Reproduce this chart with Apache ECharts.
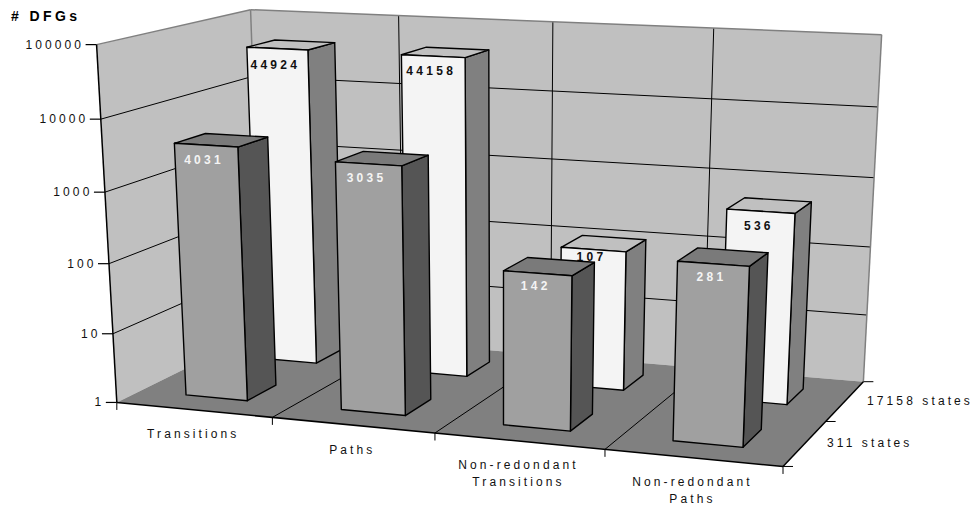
<!DOCTYPE html>
<html>
<head>
<meta charset="utf-8">
<style>
html, body { margin: 0; padding: 0; background: #fff; }
#chart { width: 977px; height: 512px; }
/* the original text is widely tracked, canvas can't do this so we use the svg renderer */
#chart svg text { letter-spacing: 3.1px; }
#chart svg text[style*="bold"] { letter-spacing: 3.3px; }
#chart svg text[style*="14px"] { letter-spacing: 3.4px; }
</style>
<script src="https://cdn.jsdelivr.net/npm/echarts@6/dist/echarts.min.js"></script>
</head>
<body>
<div id="chart"></div>
<script>
const categories = ['Transitions', 'Paths', 'Non-redondant\nTransitions', 'Non-redondant\nPaths']
const depthLabels = ['311 states', '17158 states']
const states311 = [4031, 3035, 142, 281]
const states17158 = [44924, 44158, 107, 536]
const yTicks = [1, 10, 100, 1000, 10000, 100000]
const yTitle = '# DFGs'

// px below the top edge of the bar face where the value sits
const labelDrop311 = [15, 14, 13, 13]
const labelDrop17158 = [16, 15, 7, 15]

// calibration of the fake 3d box: [category, depth, log10 value, px x, px y]
const cameraPoints = [
    [0, 0, 0, 117, 403], [1, 0, 0, 271.7, 417], [2, 0, 0, 434.7, 433], [3, 0, 0, 604.7, 449], [4, 0, 0, 783, 467],
    [4, 1, 0, 826.7, 421], [4, 2, 0, 863, 382], [0, 2, 0, 262, 331],
    [0, 0, 1, 113.3, 334], [0, 0, 2, 109.2, 263], [0, 0, 3, 105.2, 192], [0, 0, 4, 100, 119.3], [0, 0, 5, 97, 45],
    [0, 2, 5, 250, 9.5], [1, 2, 5, 398, 15.5], [2, 2, 5, 555, 22], [3, 2, 5, 713, 28], [4, 2, 5, 882, 34.7],
    [4, 2, 4, 877.3, 106.7], [4, 2, 3, 873.7, 178]
]

const BAR_MARGIN = 0.3 // gap on each side of a bar, in category / row units

function solve(A, b) {
    const n = b.length
    for (let i = 0; i < n; i++) {
        let p = i
        for (let r = i + 1; r < n; r++) if (Math.abs(A[r][i]) > Math.abs(A[p][i])) p = r
        ;[A[i], A[p]] = [A[p], A[i]]
        ;[b[i], b[p]] = [b[p], b[i]]
        for (let r = i + 1; r < n; r++) {
            const f = A[r][i] / A[i][i]
            for (let c = i; c < n; c++) A[r][c] -= f * A[i][c]
            b[r] -= f * b[i]
        }
    }
    const x = new Array(n).fill(0)
    for (let i = n - 1; i >= 0; i--) {
        let s = b[i]
        for (let c = i + 1; c < n; c++) s -= A[i][c] * x[c]
        x[i] = s / A[i][i]
    }
    return x
}

// least squares fit of the projective matrix
function fitCamera() {
    const N = Array.from({ length: 11 }, () => new Array(11).fill(0))
    const r = new Array(11).fill(0)
    const add = (row, t) => {
        for (let i = 0; i < 11; i++) {
            r[i] += row[i] * t
            for (let j = 0; j < 11; j++) N[i][j] += row[i] * row[j]
        }
    }
    cameraPoints.forEach(([u, v, w, x, y]) => {
        u /= 4; v /= 2; w /= 5
        add([u, v, w, 1, 0, 0, 0, 0, -x * u, -x * v, -x * w], x)
        add([0, 0, 0, 0, u, v, w, 1, -y * u, -y * v, -y * w], y)
    })
    return solve(N, r)
}
const cam = fitCamera()

function project(u, v, w) {
    u /= 4; v /= 2; w /= 5
    const d = cam[8] * u + cam[9] * v + cam[10] * w + 1
    return [
        (cam[0] * u + cam[1] * v + cam[2] * w + cam[3]) / d,
        (cam[4] * u + cam[5] * v + cam[6] * w + cam[7]) / d
    ]
}

// axis scales give the position on the flat grid, which is then put on the 3d box
function toBox(api, params, x, value, depth) {
    const cs = params.coordSys
    const c = api.coord([x, value])
    return project((c[0] - cs.x) / cs.width * 4, depth, (cs.y + cs.height - c[1]) / cs.height * 5)
}

function poly(points, fill, stroke, lineWidth) {
    return {
        type: 'polygon',
        shape: { points: points },
        style: { fill: fill, stroke: stroke || 'none', lineWidth: lineWidth || 0, lineJoin: 'round' }
    }
}

function line(a, b, stroke, lineWidth) {
    return {
        type: 'line',
        shape: { x1: a[0], y1: a[1], x2: b[0], y2: b[1] },
        style: { stroke: stroke, lineWidth: lineWidth, fill: 'none' }
    }
}

function text(str, x, y, font, fill, align) {
    return {
        type: 'text',
        style: { text: str, x: x, y: y, font: font, fill: fill, align: align, verticalAlign: 'middle', lineHeight: 16.5 }
    }
}

const AXIS_FONT = '12px "Liberation Sans", Arial, sans-serif'
const BOLD_FONT = 'bold 12px "Liberation Sans", Arial, sans-serif'
const TITLE_FONT = 'bold 14px "Liberation Sans", Arial, sans-serif'

function renderFrame(params, api) {
    const P = (x, value, depth) => toBox(api, params, x, value, depth)
    const n = categories.length
    const yMin = yTicks[0]
    const yMax = yTicks[yTicks.length - 1]
    const rows = depthLabels.length
    const kids = []

    const A = P(0, yMin, 0), B = P(n, yMin, 0), C = P(n, yMin, rows), D = P(0, yMin, rows)
    const E = P(0, yMax, 0), F = P(0, yMax, rows), G = P(n, yMax, rows)

    kids.push(poly([A, E, F, D], '#c0c0c0'))
    kids.push(poly([D, F, G, C], '#c0c0c0'))

    // grid on the two walls
    yTicks.slice(1, -1).forEach(t => {
        const back = P(0, t, rows)
        kids.push(line(P(0, t, 0), back, '#000', 1))
        kids.push(line(back, P(n, t, rows), '#000', 1))
    })
    for (let i = 1; i < n; i++) {
        kids.push(line(P(i, yMin, rows), P(i, yMax, rows), '#000', 1))
    }

    kids.push(line(E, F, '#808080', 1.5))
    kids.push(line(F, G, '#808080', 1.5))
    kids.push(line(G, C, '#808080', 1.5))
    kids.push(line(F, D, '#808080', 1.5))

    kids.push(poly([A, B, C, D], '#808080'))
    for (let i = 1; i < n; i++) {
        kids.push(line(P(i, yMin, 0), P(i, yMin, rows), '#000', 1))
    }
    kids.push(line(A, E, '#000', 1.5))
    kids.push(line(A, B, '#000', 1.5))
    kids.push(line(B, C, '#000', 1.5))

    // value axis
    yTicks.forEach(t => {
        const p = P(0, t, 0)
        kids.push(line([p[0] - 11, p[1]], p, '#000', 1.2))
        kids.push(text(String(t), p[0] - 12.5, p[1], AXIS_FONT, '#111', 'right'))
    })
    // category axis
    for (let i = 0; i <= n; i++) {
        const p = P(i, yMin, 0)
        kids.push(line(p, [p[0], p[1] + 7.5], '#000', 1))
    }
    categories.forEach((c, i) => {
        const p = P(i + 0.5, yMin, 0)
        const lines = c.split('\n').length
        kids.push(text(c, p[0] - 0.5, p[1] + 24.5 + (lines - 1) * 8, AXIS_FONT, '#111', 'center'))
    })
    // depth axis
    for (let r = 0; r <= rows; r++) {
        const p = P(n, yMin, r)
        kids.push(line(p, [p[0] + 10, p[1]], '#000', 1))
    }
    depthLabels.forEach((d, r) => {
        const p = P(n, yMin, r + 0.5)
        kids.push(text(d, p[0] + 22, p[1], AXIS_FONT, '#111', 'left'))
    })

    kids.push(text(yTitle, 11, 16, TITLE_FONT, '#000', 'left'))

    return { type: 'group', children: kids }
}

function barRenderer(depth, faceColor, topColor, sideColor, labelColor, drops) {
    return function (params, api) {
        const i = api.value(0)
        const val = api.value(1)
        const yMin = yTicks[0]
        const x0 = i + BAR_MARGIN, x1 = i + 1 - BAR_MARGIN
        const d0 = depth + BAR_MARGIN, d1 = depth + 1 - BAR_MARGIN
        const P = (x, value, d) => toBox(api, params, x, value, d)

        const fb0 = P(x0, yMin, d0), fb1 = P(x1, yMin, d0), bb1 = P(x1, yMin, d1)
        const ft0 = P(x0, val, d0), ft1 = P(x1, val, d0), bt1 = P(x1, val, d1), bt0 = P(x0, val, d1)

        return {
            type: 'group',
            children: [
                poly([fb1, bb1, bt1, ft1], sideColor, '#000', 1.4),
                poly([ft0, ft1, bt1, bt0], topColor, '#000', 1.4),
                poly([fb0, fb1, ft1, ft0], faceColor, '#000', 1.4),
                text(String(val), (ft0[0] + ft1[0]) / 2 - 2, (ft0[1] + ft1[1]) / 2 + drops[i], BOLD_FONT, labelColor, 'center')
            ]
        }
    }
}

const chart = echarts.init(document.getElementById('chart'), null, { renderer: 'svg' })

chart.setOption({
    animation: false,
    grid: { left: 0, right: 0, top: 0, bottom: 0 },
    xAxis: { type: 'value', min: 0, max: categories.length, show: false },
    yAxis: { type: 'log', logBase: 10, min: yTicks[0], max: yTicks[yTicks.length - 1], show: false },
    series: [
        {
            name: 'frame',
            type: 'custom',
            coordinateSystem: 'cartesian2d',
            silent: true,
            z: 1,
            data: [[0, yTicks[0]]],
            renderItem: renderFrame
        },
        {
            name: depthLabels[1],
            type: 'custom',
            coordinateSystem: 'cartesian2d',
            silent: true,
            z: 2,
            data: states17158.map((v, i) => [i, v]),
            renderItem: barRenderer(1, '#f4f4f4', '#c0c0c0', '#808080', '#111', labelDrop17158)
        },
        {
            name: depthLabels[0],
            type: 'custom',
            coordinateSystem: 'cartesian2d',
            silent: true,
            z: 3,
            data: states311.map((v, i) => [i, v]),
            renderItem: barRenderer(0, '#a0a0a0', '#7a7a7a', '#555555', '#f4f4f4', labelDrop311)
        }
    ]
})
</script>
</body>
</html>
